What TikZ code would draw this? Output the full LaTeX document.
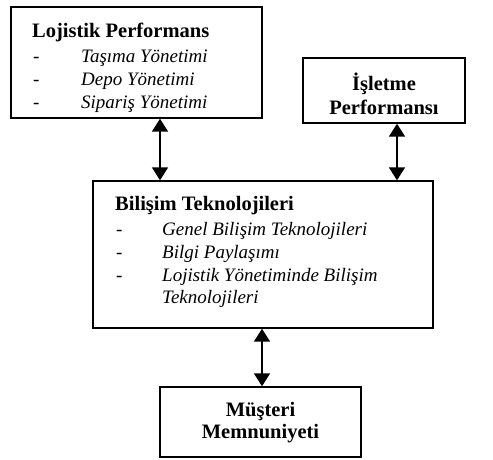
\documentclass[tikz,border=0pt]{standalone}
\usepackage{fontspec}
\setmainfont{Liberation Serif}
\usetikzlibrary{arrows.meta}

\begin{document}
\begin{tikzpicture}[x=1pt, y=-1pt,
        kutu/.style={draw, line width=1.4pt, inner sep=0pt},
        baslik/.style={font=\fontsize{20.5}{24}\selectfont\bfseries, inner sep=0pt},
        madde/.style={font=\fontsize{19}{23}\selectfont\itshape, anchor=base west, inner sep=0pt},
        tire/.style={font=\fontsize{19}{23}\selectfont, anchor=base west, inner sep=0pt},
        ok/.style={line width=1.6pt, {Triangle[width=16pt,length=13pt]}-{Triangle[width=16pt,length=13pt]}}]
        \useasboundingbox (0,0) rectangle (493,459);
        % kutular
        \node[kutu, minimum width=251pt, minimum height=111pt] (lojistik) at (136.5,62.5) {};
        \node[kutu, minimum width=162pt, minimum height=65pt] (isletme) at (384,90.5) {};
        \node[kutu, minimum width=340pt, minimum height=147pt] (bilisim) at (263,254.5) {};
        \node[kutu, minimum width=201pt, minimum height=70pt] (musteri) at (260.5,422) {};
        % lojistik performans
        \node[baslik, anchor=base west] (lojBaslik) at (32,37) {Lojistik Performans};
        \node[tire] (lojTire1) at (33,62) {-};
        \node[madde] (lojMadde1) at (81,62) {Taşıma Yönetimi};
        \node[tire] (lojTire2) at (33,85) {-};
        \node[madde] (lojMadde2) at (81,85) {Depo Yönetimi};
        \node[tire] (lojTire3) at (33,108) {-};
        \node[madde] (lojMadde3) at (81,108) {Sipariş Yönetimi};
        % isletme performansi
        \node[baslik, align=center] (islMetin) at (384,94) {İşletme\\Performansı};
        % bilisim teknolojileri
        \node[baslik, anchor=base west] (bilBaslik) at (115,210) {Bilişim Teknolojileri};
        \node[tire] (bilTire1) at (116,235) {-};
        \node[madde] (bilMadde1) at (162,235) {Genel Bilişim Teknolojileri};
        \node[tire] (bilTire2) at (116,258) {-};
        \node[madde] (bilMadde2) at (162,258) {Bilgi Paylaşımı};
        \node[tire] (bilTire3) at (116,281) {-};
        \node[madde] (bilMadde3) at (162,281) {Lojistik Yönetiminde Bilişim};
        \node[madde] (bilMadde4) at (162,303) {Teknolojileri};
        % musteri memnuniyeti
        \node[baslik, align=center, font=\fontsize{20.5}{22}\selectfont\bfseries] (musMetin) at (260.5,423) {Müşteri\\Memnuniyeti};
        % oklar
        \coordinate (okA) at (160,0);
        \coordinate (okB) at (397,0);
        \coordinate (okC) at (262,0);
        \draw[ok] (lojistik.south -| okA) -- (bilisim.north -| okA);
        \draw[ok] (isletme.south -| okB) -- (bilisim.north -| okB);
        \draw[ok] (bilisim.south -| okC) -- (musteri.north -| okC);
\end{tikzpicture}
\end{document}
